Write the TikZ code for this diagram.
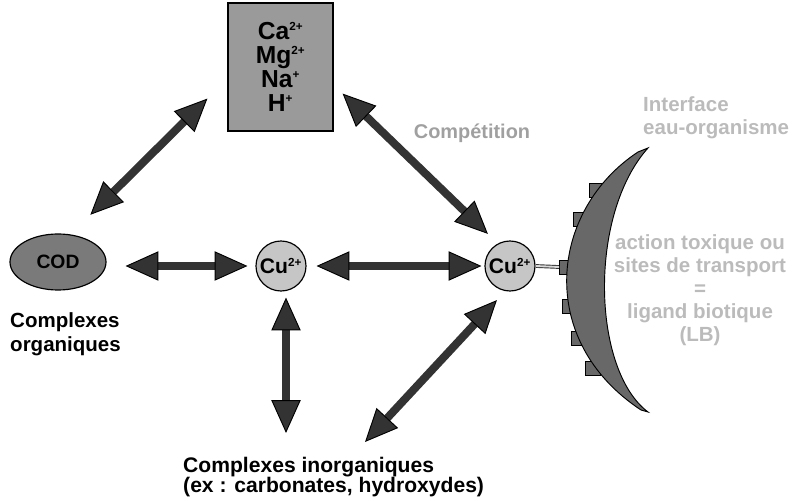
\documentclass[tikz,border=0pt]{standalone}
\usepackage{fontspec}
\setmainfont{Liberation Sans}
\usetikzlibrary{shapes.geometric, arrows.meta, calc}
\definecolor{arrgray}{HTML}{333333}
\definecolor{boxgray}{HTML}{9A9A9A}
\definecolor{codgray}{HTML}{7A7A7A}
\definecolor{cugray}{HTML}{C6C6C6}
\definecolor{memgray}{HTML}{686868}
\definecolor{paletext}{HTML}{BBBBBB}
\definecolor{midtext}{HTML}{A0A0A0}
\newcommand{\ionchg}[1]{\textsuperscript{\fontsize{10}{10}\selectfont #1}}
\tikzset{
	ionbox/.style={rectangle, draw, line width=1pt, fill=boxgray, align=center, minimum width=31.5mm, minimum height=38.4mm, font=\fontsize{21}{20.5}\selectfont\bfseries},
	codell/.style={ellipse, draw, line width=1pt, fill=codgray, minimum width=28.8mm, minimum height=16.8mm, inner sep=0pt, font=\fontsize{16.5}{18}\selectfont\bfseries},
	cu/.style={circle, draw, line width=1pt, fill=cugray, minimum size=15mm, inner sep=0pt, font=\fontsize{18}{18}\selectfont\bfseries},
	site/.style={rectangle, draw, line width=0.8pt, fill=memgray, minimum width=4.5mm, minimum height=4.2mm, inner sep=0pt},
	lbl/.style={align=left, inner sep=0pt, font=\fontsize{17.5}{20.4}\selectfont\bfseries},
	pale/.style={text=paletext, inner sep=0pt, font=\fontsize{17.5}{19.6}\selectfont\bfseries},
	arr/.style={draw=arrgray, line width=6.8pt, >={Triangle[length=28pt, width=25pt, fill=arrgray, color=black, line width=0.8pt]}, <->},
	bond/.style={draw=black!80, double=white!85!black, double distance=1.6pt, line width=0.8pt},
	membrane/.style={draw, line width=0.8pt, fill=memgray}
}
\begin{document}
\begin{tikzpicture}[x=0.3mm, y=-0.3mm]
	\useasboundingbox (0,0) rectangle (794,501);

	\node[ionbox] (ions) at (280.5,67) {Ca\ionchg{2+}\\Mg\ionchg{2+}\\Na\ionchg{+}\\H\ionchg{+}};
	\node[codell] (cod) at (58,262) {COD};
	\node[cu] (cul) at (281,266) {Cu\ionchg{2+}};
	\node[cu] (cur) at (510,266) {Cu\ionchg{2+}};

	\node[lbl, anchor=west] (orga) at (10,334) {Complexes\\organiques};
	\node[lbl, anchor=west, font=\fontsize{18}{17.8}\selectfont\bfseries] (inorga) at (183,477) {Complexes inorganiques\\(ex : carbonates, hydroxydes)};
	\node[lbl, text=midtext, font=\fontsize{17}{19}\selectfont\bfseries] (compet) at (472,133) {Compétition};
	\node[pale, align=left, anchor=west] (interf) at (643,118) {Interface\\eau-organisme};
	\node[pale, align=center] (ligand) at (700,290) {action toxique ou\\sites de transport\\=\\ligand biotique\\(LB)};

	% membrane with its receptor sites
	\foreach \sx/\sy in {598/190, 582/219, 571/306, 580/338, 594/368}
		\draw[membrane] (\sx-9,\sy-7) rectangle (\sx+6,\sy+7);
	\node[site] (bsite) at (567,267) {};
	\draw[membrane] (638,152) .. controls (550,210) and (535,340) .. (641,410)
		-- (648,412) .. controls (592,370) and (588,215) .. (648,148) -- cycle;
	\draw[bond] (cur.east) -- (bsite.west);

	\coordinate (cbot) at (286,433);
	\coordinate (cdiag) at (365,442);

	\draw[arr] ($(ions.south west)+(-20,-33)$) -- ($(cod.north east)+(-2,-27)$);
	\draw[arr] ($(cod.east)+(19,4)$) -- ($(cul.west)+(-8,0)$);
	\draw[arr] ($(cul.east)+(10,0)$) -- ($(cur.west)+(-3,0)$);
	\draw[arr] ($(ions.south east)+(9,-38)$) -- ($(cur.north west)+(-4,-14)$);
	\draw[arr] ($(cul.south)+(5,6)$) -- (cbot);
	\draw[arr] ($(cur.south west)+(5,16)$) -- (cdiag);
\end{tikzpicture}
\end{document}
